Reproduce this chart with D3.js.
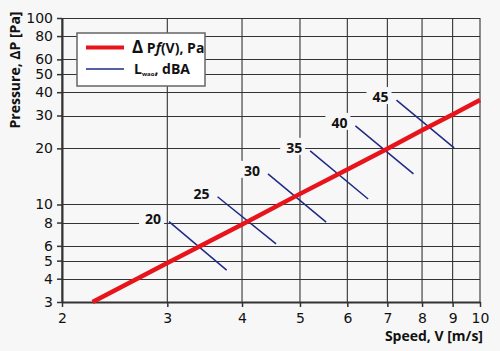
<!DOCTYPE html>
<html>
<head>
<meta charset="utf-8">
<script src="https://cdn.jsdelivr.net/npm/d3@7"></script>
<style>
  body { margin: 0; background: #f7f7f7; }
  svg { display: block; }
  .tick-label { font-family: "DejaVu Sans", sans-serif; font-size: 14px; fill: #111; }
  .title { font-family: "Open Sans", sans-serif; font-weight: bold; font-size: 14px; fill: #111; }
</style>
</head>
<body>
<div id="chart"></div>
<script>
// pressure curve dP = f(V)
const speed = [2.25, 3, 4, 5, 6, 7, 8, 9, 10];
const pressure = [3, 4.85, 7.8, 11.4, 15.4, 19.9, 25, 30.4, 36.3];

// sound level lines Lwao (dBA): start and end points
const levels = [20, 25, 30, 35, 40, 45];
const levelStartV = [3.02, 3.64, 4.42, 5.2, 6.19, 7.25];
const levelStartP = [8.1, 11.0, 14.6, 19.4, 26.4, 36.3];
const levelEndV = [3.77, 4.56, 5.53, 6.5, 7.74, 9.05];
const levelEndP = [4.45, 6.15, 8.04, 10.7, 14.6, 20.1];

const xTicks = [2, 3, 4, 5, 6, 7, 8, 9, 10];
const yTicks = [3, 4, 5, 6, 8, 10, 20, 30, 40, 50, 60, 80, 100];

const W = 500, H = 351;
const margin = {top: 18, right: 20, bottom: 49, left: 62};

const svg = d3.select("#chart").append("svg")
  .attr("width", W)
  .attr("height", H);

svg.append("rect").attr("width", W).attr("height", H).attr("fill", "#f7f7f7");

const x = d3.scaleLog()
  .domain([2, 10])
  .range([margin.left, W - margin.right]);

const y = d3.scaleLog()
  .domain([3, 100])
  .range([H - margin.bottom, margin.top]);

// grid
const grid = svg.append("g");
grid.selectAll(".vgrid").data(xTicks).enter().append("line")
  .attr("x1", d => x(d)).attr("x2", d => x(d))
  .attr("y1", y(3)).attr("y2", y(100))
  .attr("stroke", "#333").attr("stroke-width", 1.1);
grid.selectAll(".hgrid").data(yTicks).enter().append("line")
  .attr("x1", x(2)).attr("x2", x(10))
  .attr("y1", d => Math.round(y(d)) + 0.5).attr("y2", d => Math.round(y(d)) + 0.5)
  .attr("stroke", "#333").attr("stroke-width", 1.1);

// axes
const xAxis = d3.axisBottom(x).tickValues(xTicks).tickFormat(d3.format("d")).tickSize(5).tickSizeOuter(0);
const yAxis = d3.axisLeft(y).tickValues(yTicks).tickFormat(d3.format("d")).tickSize(5).tickSizeOuter(0);

const gx = svg.append("g")
  .attr("transform", "translate(0," + y(3) + ")")
  .call(xAxis);
const gy = svg.append("g")
  .attr("transform", "translate(" + x(2) + ",0)")
  .call(yAxis);

[gx, gy].forEach(g => {
  g.select(".domain").attr("stroke", "#333").attr("stroke-width", 2);
  g.selectAll(".tick line").attr("stroke", "#333").attr("stroke-width", 1.5);
  g.selectAll(".tick text").attr("class", "tick-label").attr("fill", null);
});
gx.selectAll(".tick text").attr("dy", "0.95em");
gy.selectAll(".tick text").attr("dx", "-1px");

// sound level lines with labels
const lw = levels.map((l, i) => ({
  level: l,
  v0: levelStartV[i], p0: levelStartP[i],
  v1: levelEndV[i], p1: levelEndP[i]
}));

svg.selectAll(".lw").data(lw).enter().append("line")
  .attr("x1", d => x(d.v0)).attr("y1", d => y(d.p0))
  .attr("x2", d => x(d.v1)).attr("y2", d => y(d.p1))
  .attr("stroke", "#1f2a85").attr("stroke-width", 1.5);

const labels = svg.selectAll(".lwlabel").data(lw).enter().append("g");
labels.append("rect")
  .attr("x", d => x(d.v0) - 30)
  .attr("y", d => y(d.p0) - 13)
  .attr("width", 25)
  .attr("height", 17)
  .attr("fill", "#f7f7f7");
labels.append("text")
  .attr("class", "title")
  .attr("font-size", "15px")
  .attr("x", d => x(d.v0) - 8)
  .attr("y", d => y(d.p0) + 2)
  .attr("text-anchor", "end")
  .text(d => d.level);

// pressure curve
const line = d3.line()
  .x(d => x(d[0]))
  .y(d => y(d[1]));

svg.append("path")
  .datum(speed.map((v, i) => [v, pressure[i]]))
  .attr("d", line)
  .attr("fill", "none")
  .attr("stroke", "#e8141c")
  .attr("stroke-width", 4.5);

// legend
const lg = svg.append("g").attr("transform", "translate(77,33)");
lg.append("rect")
  .attr("width", 128).attr("height", 53)
  .attr("fill", "#fff")
  .attr("stroke", "#666").attr("stroke-width", 1.5);
lg.append("line").attr("x1", 9).attr("x2", 47).attr("y1", 14.5).attr("y2", 14.5)
  .attr("stroke", "#e8141c").attr("stroke-width", 4);
lg.append("line").attr("x1", 9).attr("x2", 47).attr("y1", 36).attr("y2", 36)
  .attr("stroke", "#1f2a85").attr("stroke-width", 1.5);

const t1 = lg.append("text").attr("class", "title").attr("x", 55).attr("y", 20);
t1.append("tspan").attr("font-size", "17px").text("\u0394");
t1.append("tspan").text(" P");
t1.append("tspan").attr("font-style", "italic").text("f");
t1.append("tspan").text("(V), Pa");

const t2 = lg.append("text").attr("class", "title").attr("x", 57).attr("y", 41);
t2.append("tspan").text("L");
t2.append("tspan").attr("font-size", "6px").attr("dy", 2).text("wao");
t2.append("tspan").attr("dy", -2).text(", dBA");

// axis titles
svg.append("text")
  .attr("class", "title")
  .attr("x", 483)
  .attr("y", 341)
  .attr("text-anchor", "end")
  .text("Speed, V [m/s]");

svg.append("text")
  .attr("class", "title")
  .attr("transform", "translate(20,70) rotate(-90)")
  .attr("text-anchor", "middle")
  .text("Pressure, \u0394P [Pa]");
</script>
</body>
</html>
